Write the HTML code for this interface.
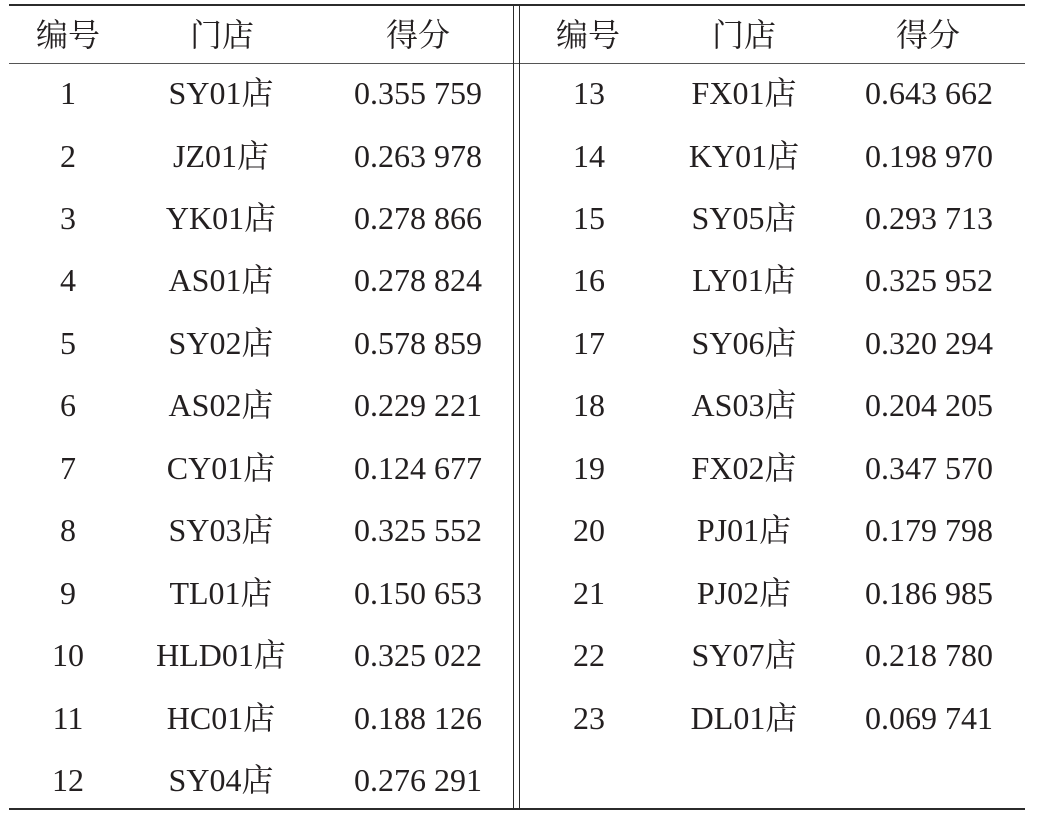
<!DOCTYPE html>
<html>
<head>
<meta charset="utf-8">
<style>
html,body{margin:0;padding:0;background:#fff;}
body{width:1062px;height:817px;position:relative;overflow:hidden;
font-family:"Liberation Serif","Noto Serif CJK SC",serif;color:#231f20;font-size:32px;}
.l{position:absolute;background:#2b2b2b;}
.c{position:absolute;width:240px;height:62px;line-height:62px;text-align:center;white-space:nowrap;margin-left:-120px;margin-top:-31px;}
</style>
</head>
<body>
<div class="l" style="left:9px;top:4px;width:1016px;height:2px;"></div>
<div class="l" style="left:9px;top:63px;width:1016px;height:1px;background:#555;"></div>
<div class="l" style="left:9px;top:808px;width:1016px;height:2px;"></div>
<div class="l" style="left:513px;top:5px;width:1.4px;height:804px;"></div>
<div class="l" style="left:518.6px;top:5px;width:1.4px;height:804px;"></div>

<div class="c" style="left:68px;top:35px;">编号</div>
<div class="c" style="left:222px;top:35px;">门店</div>
<div class="c" style="left:418px;top:35px;">得分</div>
<div class="c" style="left:588px;top:35px;">编号</div>
<div class="c" style="left:744px;top:35px;">门店</div>
<div class="c" style="left:928px;top:35px;">得分</div>

<div class="c" style="left:68px;top:93px;">1</div><div class="c" style="left:221px;top:93px;">SY01店</div><div class="c" style="left:418px;top:93px;">0.355 759</div>
<div class="c" style="left:68px;top:155.5px;">2</div><div class="c" style="left:221px;top:155.5px;">JZ01店</div><div class="c" style="left:418px;top:155.5px;">0.263 978</div>
<div class="c" style="left:68px;top:218px;">3</div><div class="c" style="left:221px;top:218px;">YK01店</div><div class="c" style="left:418px;top:218px;">0.278 866</div>
<div class="c" style="left:68px;top:280.4px;">4</div><div class="c" style="left:221px;top:280.4px;">AS01店</div><div class="c" style="left:418px;top:280.4px;">0.278 824</div>
<div class="c" style="left:68px;top:342.8px;">5</div><div class="c" style="left:221px;top:342.8px;">SY02店</div><div class="c" style="left:418px;top:342.8px;">0.578 859</div>
<div class="c" style="left:68px;top:405.3px;">6</div><div class="c" style="left:221px;top:405.3px;">AS02店</div><div class="c" style="left:418px;top:405.3px;">0.229 221</div>
<div class="c" style="left:68px;top:467.7px;">7</div><div class="c" style="left:221px;top:467.7px;">CY01店</div><div class="c" style="left:418px;top:467.7px;">0.124 677</div>
<div class="c" style="left:68px;top:530.2px;">8</div><div class="c" style="left:221px;top:530.2px;">SY03店</div><div class="c" style="left:418px;top:530.2px;">0.325 552</div>
<div class="c" style="left:68px;top:592.6px;">9</div><div class="c" style="left:221px;top:592.6px;">TL01店</div><div class="c" style="left:418px;top:592.6px;">0.150 653</div>
<div class="c" style="left:68px;top:655px;">10</div><div class="c" style="left:221px;top:655px;">HLD01店</div><div class="c" style="left:418px;top:655px;">0.325 022</div>
<div class="c" style="left:68px;top:717.5px;">11</div><div class="c" style="left:221px;top:717.5px;">HC01店</div><div class="c" style="left:418px;top:717.5px;">0.188 126</div>
<div class="c" style="left:68px;top:780px;">12</div><div class="c" style="left:221px;top:780px;">SY04店</div><div class="c" style="left:418px;top:780px;">0.276 291</div>

<div class="c" style="left:589px;top:93px;">13</div><div class="c" style="left:744px;top:93px;">FX01店</div><div class="c" style="left:929px;top:93px;">0.643 662</div>
<div class="c" style="left:589px;top:155.5px;">14</div><div class="c" style="left:744px;top:155.5px;">KY01店</div><div class="c" style="left:929px;top:155.5px;">0.198 970</div>
<div class="c" style="left:589px;top:218px;">15</div><div class="c" style="left:744px;top:218px;">SY05店</div><div class="c" style="left:929px;top:218px;">0.293 713</div>
<div class="c" style="left:589px;top:280.4px;">16</div><div class="c" style="left:744px;top:280.4px;">LY01店</div><div class="c" style="left:929px;top:280.4px;">0.325 952</div>
<div class="c" style="left:589px;top:342.8px;">17</div><div class="c" style="left:744px;top:342.8px;">SY06店</div><div class="c" style="left:929px;top:342.8px;">0.320 294</div>
<div class="c" style="left:589px;top:405.3px;">18</div><div class="c" style="left:744px;top:405.3px;">AS03店</div><div class="c" style="left:929px;top:405.3px;">0.204 205</div>
<div class="c" style="left:589px;top:467.7px;">19</div><div class="c" style="left:744px;top:467.7px;">FX02店</div><div class="c" style="left:929px;top:467.7px;">0.347 570</div>
<div class="c" style="left:589px;top:530.2px;">20</div><div class="c" style="left:744px;top:530.2px;">PJ01店</div><div class="c" style="left:929px;top:530.2px;">0.179 798</div>
<div class="c" style="left:589px;top:592.6px;">21</div><div class="c" style="left:744px;top:592.6px;">PJ02店</div><div class="c" style="left:929px;top:592.6px;">0.186 985</div>
<div class="c" style="left:589px;top:655px;">22</div><div class="c" style="left:744px;top:655px;">SY07店</div><div class="c" style="left:929px;top:655px;">0.218 780</div>
<div class="c" style="left:589px;top:717.5px;">23</div><div class="c" style="left:744px;top:717.5px;">DL01店</div><div class="c" style="left:929px;top:717.5px;">0.069 741</div>
</body>
</html>
